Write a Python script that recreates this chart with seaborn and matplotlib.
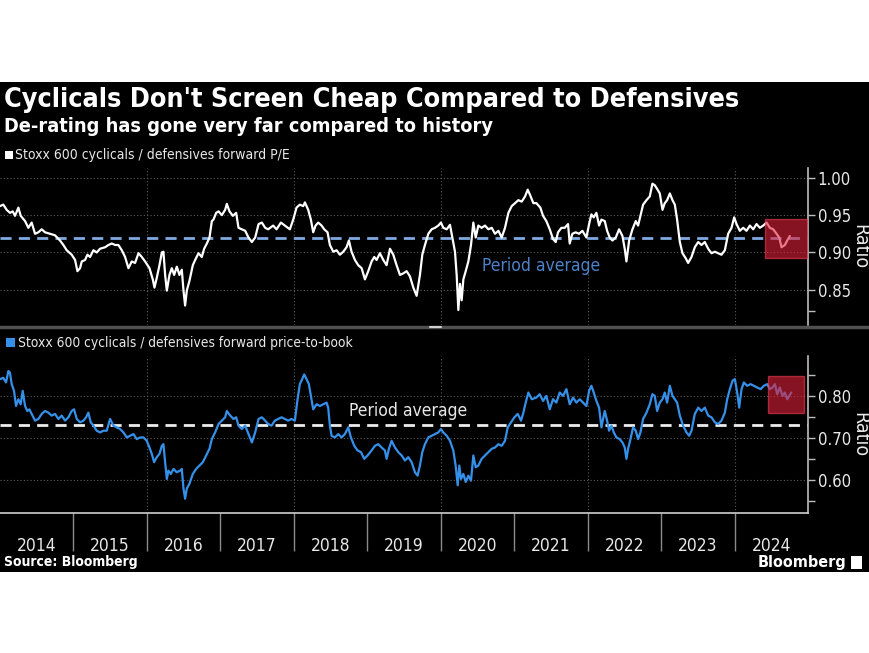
import matplotlib
matplotlib.use("Agg")
import matplotlib.pyplot as plt
import seaborn as sns
import pandas as pd
from matplotlib import font_manager
from matplotlib.patches import Rectangle
from matplotlib.lines import Line2D

# ---------------- data ----------------
pe_years = [
    2014.000, 2014.045, 2014.091, 2014.136, 2014.173, 2014.204, 2014.250, 2014.282, 2014.341, 2014.386,
    2014.431, 2014.477, 2014.522, 2014.568, 2014.613, 2014.681, 2014.749, 2014.817, 2014.863, 2014.908,
    2014.976, 2015.022, 2015.054, 2015.090, 2015.113, 2015.158, 2015.190, 2015.226, 2015.272, 2015.317,
    2015.362, 2015.431, 2015.476, 2015.521, 2015.567, 2015.612, 2015.658, 2015.703, 2015.748, 2015.794,
    2015.839, 2015.885, 2015.930, 2015.975, 2016.035, 2016.080, 2016.103, 2016.134, 2016.171, 2016.203,
    2016.225, 2016.248, 2016.271, 2016.307, 2016.339, 2016.371, 2016.407, 2016.443, 2016.475, 2016.498,
    2016.520, 2016.543, 2016.579, 2016.625, 2016.657, 2016.702, 2016.747, 2016.779, 2016.816, 2016.852,
    2016.884, 2016.906, 2016.943, 2016.975, 2017.020, 2017.065, 2017.088, 2017.124, 2017.170, 2017.215,
    2017.247, 2017.292, 2017.338, 2017.383, 2017.429, 2017.474, 2017.520, 2017.565, 2017.610,
    2017.651, 2017.719, 2017.765, 2017.824, 2017.878, 2017.946, 2017.992, 2018.037, 2018.082, 2018.128,
    2018.151, 2018.196, 2018.232, 2018.264, 2018.296, 2018.332, 2018.378, 2018.414, 2018.459, 2018.491,
    2018.537, 2018.582, 2018.627, 2018.673, 2018.718, 2018.750, 2018.786, 2018.832, 2018.877, 2018.923,
    2018.968, 2019.013, 2019.059, 2019.095, 2019.127, 2019.172, 2019.218, 2019.263, 2019.309, 2019.354,
    2019.399, 2019.445, 2019.490, 2019.536, 2019.581, 2019.627, 2019.672, 2019.717, 2019.749, 2019.785,
    2019.831, 2019.876, 2019.922, 2019.967, 2020.003, 2020.035, 2020.081, 2020.126, 2020.158, 2020.194,
    2020.217, 2020.240, 2020.262, 2020.285, 2020.308, 2020.340, 2020.376, 2020.412, 2020.444, 2020.476,
    2020.512, 2020.557, 2020.603, 2020.648, 2020.694, 2020.739, 2020.785, 2020.830, 2020.875, 2020.921,
    2020.966, 2021.012, 2021.057, 2021.102, 2021.148, 2021.184, 2021.216, 2021.261,
    2021.302, 2021.356, 2021.393, 2021.438, 2021.484, 2021.529, 2021.565, 2021.597, 2021.643, 2021.688,
    2021.733, 2021.756, 2021.792, 2021.838, 2021.883, 2021.929, 2021.983, 2022.020, 2022.051, 2022.083,
    2022.119, 2022.156, 2022.188, 2022.233, 2022.265, 2022.301, 2022.337, 2022.383, 2022.428, 2022.474,
    2022.505, 2022.528, 2022.565, 2022.610, 2022.655, 2022.687, 2022.719, 2022.755, 2022.801, 2022.846,
    2022.882, 2022.914, 2022.946, 2022.982, 2023.019, 2023.050, 2023.082, 2023.119, 2023.155, 2023.187,
    2023.218, 2023.255, 2023.291, 2023.337, 2023.368, 2023.414, 2023.459, 2023.505, 2023.550, 2023.595,
    2023.641, 2023.686, 2023.732, 2023.777, 2023.822, 2023.868, 2023.913, 2023.959, 2023.995, 2024.027,
    2024.072, 2024.118, 2024.163, 2024.209, 2024.254, 2024.299, 2024.345, 2024.390, 2024.436, 2024.481,
    2024.526, 2024.572, 2024.608, 2024.640, 2024.685, 2024.717, 2024.753,
]
pe_values = [
    0.962, 0.964, 0.957, 0.953, 0.955, 0.949, 0.960, 0.949, 0.942, 0.933,
    0.940, 0.925, 0.927, 0.931, 0.927, 0.925, 0.923, 0.916, 0.910, 0.903,
    0.897, 0.890, 0.875, 0.879, 0.888, 0.890, 0.897, 0.894, 0.903, 0.900,
    0.905, 0.907, 0.910, 0.912, 0.910, 0.910, 0.903, 0.894, 0.879, 0.888,
    0.886, 0.899, 0.894, 0.888, 0.879, 0.864, 0.853, 0.866, 0.883, 0.900,
    0.901, 0.870, 0.849, 0.870, 0.879, 0.870, 0.881, 0.870, 0.877, 0.849,
    0.829, 0.849, 0.862, 0.883, 0.890, 0.899, 0.894, 0.905, 0.912, 0.920,
    0.942, 0.944, 0.953, 0.955, 0.950, 0.957, 0.965, 0.955, 0.949, 0.953,
    0.933, 0.931, 0.929, 0.920, 0.914, 0.920, 0.938, 0.940, 0.933,
    0.931, 0.936, 0.931, 0.940, 0.936, 0.931, 0.944, 0.960, 0.964, 0.962,
    0.967, 0.957, 0.944, 0.927, 0.936, 0.940, 0.936, 0.931, 0.927, 0.910,
    0.901, 0.903, 0.897, 0.901, 0.907, 0.916, 0.901, 0.890, 0.883, 0.879,
    0.864, 0.875, 0.888, 0.894, 0.890, 0.899, 0.890, 0.883, 0.905, 0.897,
    0.883, 0.870, 0.872, 0.875, 0.868, 0.853, 0.842, 0.870, 0.897, 0.910,
    0.925, 0.931, 0.933, 0.936, 0.940, 0.933, 0.931, 0.937, 0.920, 0.901,
    0.870, 0.823, 0.858, 0.836, 0.864, 0.875, 0.888, 0.910, 0.940, 0.920,
    0.936, 0.933, 0.936, 0.931, 0.933, 0.925, 0.929, 0.920, 0.933, 0.953,
    0.962, 0.966, 0.970, 0.968, 0.975, 0.984, 0.977, 0.966,
    0.966, 0.960, 0.949, 0.942, 0.931, 0.918, 0.914, 0.927, 0.933, 0.933,
    0.938, 0.912, 0.925, 0.927, 0.925, 0.929, 0.920, 0.938, 0.951, 0.947,
    0.953, 0.936, 0.944, 0.942, 0.929, 0.920, 0.916, 0.920, 0.931, 0.922,
    0.905, 0.888, 0.916, 0.931, 0.942, 0.936, 0.949, 0.964, 0.970, 0.975,
    0.992, 0.990, 0.985, 0.979, 0.957, 0.966, 0.970, 0.979, 0.970, 0.964,
    0.944, 0.914, 0.899, 0.892, 0.886, 0.894, 0.907, 0.914, 0.910, 0.914,
    0.905, 0.899, 0.901, 0.899, 0.897, 0.903, 0.925, 0.933, 0.947, 0.938,
    0.929, 0.933, 0.929, 0.936, 0.931, 0.938, 0.933, 0.936, 0.940, 0.933,
    0.931, 0.925, 0.920, 0.907, 0.910, 0.916, 0.922,
]

pb_years = [
    2014.000, 2014.045, 2014.082, 2014.114, 2014.136, 2014.159, 2014.191, 2014.218, 2014.250, 2014.282,
    2014.309, 2014.341, 2014.372, 2014.400, 2014.431, 2014.477, 2014.522, 2014.568, 2014.613, 2014.658,
    2014.704, 2014.749, 2014.795, 2014.840, 2014.886, 2014.931, 2014.976, 2015.008, 2015.045, 2015.090,
    2015.135, 2015.172, 2015.203, 2015.235, 2015.272, 2015.317, 2015.362, 2015.408, 2015.453, 2015.499,
    2015.544, 2015.589, 2015.635, 2015.680, 2015.726, 2015.771, 2015.817, 2015.862, 2015.907, 2015.953,
    2015.998, 2016.035, 2016.066, 2016.098, 2016.134, 2016.171, 2016.203, 2016.225, 2016.248, 2016.271,
    2016.293, 2016.325, 2016.362, 2016.407, 2016.452, 2016.475, 2016.498, 2016.520, 2016.543, 2016.579,
    2016.625, 2016.670, 2016.716, 2016.761, 2016.807, 2016.852, 2016.884, 2016.929, 2016.975, 2017.020,
    2017.065, 2017.088, 2017.134, 2017.179, 2017.215, 2017.247, 2017.292, 2017.338, 2017.383, 2017.429,
    2017.474, 2017.520, 2017.565, 2017.610,
    2017.651, 2017.696, 2017.742, 2017.787, 2017.833, 2017.878, 2017.923, 2017.969, 2018.014, 2018.051,
    2018.082, 2018.114, 2018.141, 2018.173, 2018.205, 2018.232, 2018.264, 2018.309, 2018.355, 2018.400,
    2018.446, 2018.468, 2018.491, 2018.514, 2018.559, 2018.605, 2018.650, 2018.695, 2018.741, 2018.777,
    2018.823, 2018.868, 2018.914, 2018.959, 2019.004, 2019.059, 2019.104, 2019.150, 2019.195, 2019.240,
    2019.263, 2019.295, 2019.331, 2019.377, 2019.422, 2019.468, 2019.513, 2019.558, 2019.604, 2019.649,
    2019.685, 2019.717, 2019.749, 2019.785, 2019.831, 2019.876, 2019.922, 2019.967, 2020.003, 2020.035,
    2020.081, 2020.126, 2020.171, 2020.203, 2020.231, 2020.253, 2020.276, 2020.308, 2020.340, 2020.376,
    2020.412, 2020.444, 2020.476, 2020.512, 2020.557, 2020.603, 2020.648, 2020.694, 2020.739, 2020.785,
    2020.830, 2020.875, 2020.912, 2020.957, 2021.003, 2021.048, 2021.093, 2021.125, 2021.157, 2021.193,
    2021.239,
    2021.302, 2021.347, 2021.393, 2021.438, 2021.484, 2021.529, 2021.574, 2021.620, 2021.665, 2021.711,
    2021.756, 2021.802, 2021.847, 2021.892, 2021.938, 2021.983, 2022.020, 2022.051, 2022.083, 2022.119,
    2022.156, 2022.188, 2022.210, 2022.233, 2022.265, 2022.292, 2022.324, 2022.356, 2022.392, 2022.437,
    2022.474, 2022.505, 2022.528, 2022.551, 2022.583, 2022.619, 2022.655, 2022.687, 2022.719, 2022.755,
    2022.801, 2022.846, 2022.882, 2022.914, 2022.946, 2022.982, 2023.019, 2023.050, 2023.082, 2023.119,
    2023.155, 2023.187, 2023.218, 2023.255, 2023.300, 2023.346, 2023.382, 2023.414, 2023.459, 2023.505,
    2023.550, 2023.595, 2023.641, 2023.686, 2023.732, 2023.777, 2023.822, 2023.868, 2023.900, 2023.936,
    2023.972, 2024.004, 2024.036, 2024.063, 2024.095, 2024.127, 2024.172, 2024.218, 2024.263, 2024.308,
    2024.354, 2024.399, 2024.445, 2024.481, 2024.517, 2024.549, 2024.581, 2024.617, 2024.653, 2024.685,
    2024.717, 2024.744, 2024.772,
]
pb_values = [
    0.840, 0.843, 0.832, 0.859, 0.855, 0.828, 0.812, 0.776, 0.792, 0.780,
    0.812, 0.776, 0.764, 0.768, 0.757, 0.741, 0.745, 0.757, 0.764, 0.760,
    0.753, 0.757, 0.745, 0.753, 0.741, 0.749, 0.764, 0.768, 0.745, 0.737,
    0.741, 0.749, 0.760, 0.737, 0.729, 0.717, 0.713, 0.717, 0.717, 0.745,
    0.729, 0.725, 0.721, 0.713, 0.701, 0.705, 0.709, 0.697, 0.701, 0.701,
    0.693, 0.677, 0.662, 0.642, 0.654, 0.662, 0.681, 0.685, 0.642, 0.602,
    0.622, 0.614, 0.626, 0.618, 0.622, 0.626, 0.579, 0.555, 0.579, 0.591,
    0.614, 0.626, 0.634, 0.642, 0.658, 0.674, 0.697, 0.713, 0.733, 0.741,
    0.749, 0.764, 0.753, 0.745, 0.749, 0.729, 0.721, 0.729, 0.709, 0.689,
    0.713, 0.745, 0.749, 0.741,
    0.733, 0.729, 0.741, 0.745, 0.749, 0.745, 0.741, 0.745, 0.741, 0.792,
    0.828, 0.840, 0.851, 0.840, 0.828, 0.800, 0.768, 0.780, 0.776, 0.780,
    0.784, 0.772, 0.729, 0.705, 0.701, 0.709, 0.701, 0.709, 0.725, 0.701,
    0.681, 0.670, 0.666, 0.650, 0.658, 0.670, 0.681, 0.685, 0.677, 0.670,
    0.650, 0.674, 0.693, 0.677, 0.666, 0.658, 0.646, 0.654, 0.642, 0.618,
    0.610, 0.634, 0.666, 0.685, 0.701, 0.705, 0.709, 0.713, 0.721, 0.713,
    0.705, 0.693, 0.670, 0.634, 0.587, 0.634, 0.602, 0.614, 0.595, 0.610,
    0.598, 0.658, 0.630, 0.634, 0.650, 0.658, 0.666, 0.674, 0.677, 0.685,
    0.681, 0.693, 0.725, 0.737, 0.749, 0.757, 0.741, 0.760, 0.784, 0.808,
    0.792,
    0.796, 0.804, 0.788, 0.800, 0.768, 0.792, 0.784, 0.808, 0.800, 0.816,
    0.780, 0.796, 0.784, 0.792, 0.784, 0.776, 0.812, 0.824, 0.808, 0.788,
    0.772, 0.725, 0.745, 0.764, 0.741, 0.717, 0.729, 0.713, 0.701, 0.697,
    0.689, 0.677, 0.650, 0.674, 0.697, 0.725, 0.717, 0.697, 0.713, 0.745,
    0.760, 0.780, 0.804, 0.800, 0.764, 0.784, 0.792, 0.808, 0.784, 0.824,
    0.800, 0.792, 0.784, 0.753, 0.729, 0.713, 0.705, 0.717, 0.757, 0.772,
    0.764, 0.772, 0.753, 0.749, 0.737, 0.733, 0.741, 0.760, 0.792, 0.816,
    0.836, 0.840, 0.808, 0.772, 0.816, 0.832, 0.824, 0.828, 0.824, 0.820,
    0.816, 0.824, 0.828, 0.816, 0.820, 0.828, 0.804, 0.820, 0.800, 0.808,
    0.792, 0.800, 0.808,
]

pe_average = 0.92
pb_average = 0.731
year_labels = ["2014", "2015", "2016", "2017", "2018", "2019",
               "2020", "2021", "2022", "2023", "2024"]
pe_yticks = [0.85, 0.90, 0.95, 1.00]
pb_yticks = [0.60, 0.70, 0.80]

title = "Cyclicals Don't Screen Cheap Compared to Defensives"
subtitle = "De-rating has gone very far compared to history"
pe_legend = "Stoxx 600 cyclicals / defensives forward P/E"
pb_legend = "Stoxx 600 cyclicals / defensives forward price-to-book"

# highlight window (recent period) drawn as a red box
pe_hl_x = (2024.42, 2024.995)
pe_hl_y = (0.892, 0.945)
pb_hl_x = (2024.46, 2024.94)
pb_hl_y = (0.760, 0.847)

# ---------------- style ----------------
sns.set_theme(style="dark")
names = {f.name for f in font_manager.fontManager.ttflist}
if "Liberation Sans Narrow" in names:
    FAM = ["Liberation Sans Narrow", "DejaVu Sans"]
    STRETCH = "normal"
else:
    FAM = ["DejaVu Sans"]
    STRETCH = "condensed"
plt.rcParams["font.family"] = FAM
plt.rcParams["font.stretch"] = STRETCH

W, H = 870, 653
fig = plt.figure(figsize=(W / 100, H / 100), dpi=100)
fig.patch.set_facecolor("white")


def fx(x):
    return x / W


def fy(y):
    return 1 - y / H


# black chart card (behind everything)
fig.patches.append(Rectangle((0, fy(572)), 1, (572 - 82) / H, transform=fig.transFigure,
                             facecolor="black", edgecolor="none", zorder=-10))

ax1 = fig.add_axes([0, fy(325), fx(808), 157 / H])
ax2 = fig.add_axes([0, fy(513), fx(808), 157 / H])

TXT = "#e8e8e8"
GRID = "#5c5c5c"
SPINE = "#bdbdbd"
BLUE = "#3590ea"

pe_df = pd.DataFrame({"year": pe_years, "ratio": pe_values})
pb_df = pd.DataFrame({"year": pb_years, "ratio": pb_values})

for ax in (ax1, ax2):
    ax.set_facecolor("black")
    ax.set_xlim(2014, 2025)
    for s in ("top", "left"):
        ax.spines[s].set_visible(False)
    ax.spines["right"].set_color(SPINE)
    ax.spines["right"].set_linewidth(1.2)
    ax.yaxis.tick_right()
    ax.tick_params(axis="y", which="both", right=True, direction="out", length=5, width=1,
                   color=SPINE, labelcolor=TXT, labelsize=12, pad=2)
    for yr in range(2016, 2025, 2):
        ax.axvline(yr, color=GRID, lw=0.8, ls=(0, (1, 2)), zorder=1)

# ---- top panel ----
ax1.set_ylim(0.803, 1.013)
ax1.set_yticks(pe_yticks)
ax1.set_yticklabels([f"{v:.2f}" for v in pe_yticks])
ax1.set_yticks([0.822], minor=True)
for v in pe_yticks:
    ax1.axhline(v, color=GRID, lw=0.8, ls=(0, (1, 2)), zorder=1)
ax1.spines["bottom"].set_visible(False)
ax1.set_xticks([])
ax1.axhline(pe_average, color="#7fa9e0", lw=2, dashes=(4, 2.6), zorder=2)
sns.lineplot(data=pe_df, x="year", y="ratio", ax=ax1, color="white", lw=1.6,
             estimator=None, sort=False, zorder=3)
ax1.add_patch(Rectangle((pe_hl_x[0], pe_hl_y[0]), pe_hl_x[1] - pe_hl_x[0], pe_hl_y[1] - pe_hl_y[0],
                        facecolor="#e0203a", alpha=0.6, edgecolor="#f04058", lw=1, zorder=4))
ax1.text(2021.37, 0.882, "Period average", color="#4d82c8", fontsize=12.5,
         ha="center", va="center", zorder=5)
ax1.set_xlabel("")
ax1.set_ylabel("")

# ---- bottom panel ----
ax2.set_ylim(0.521, 0.895)
ax2.set_yticks(pb_yticks)
ax2.set_yticklabels([f"{v:.2f}" for v in pb_yticks])
ax2.set_yticks([0.55, 0.65, 0.75, 0.85], minor=True)
for v in pb_yticks:
    ax2.axhline(v, color=GRID, lw=0.8, ls=(0, (1, 2)), zorder=1)
ax2.spines["bottom"].set_color("#cfcfcf")
ax2.spines["bottom"].set_linewidth(1.2)
ax2.axhline(pb_average, color="#ececec", lw=2, dashes=(4, 2.6), zorder=2)
sns.lineplot(data=pb_df, x="year", y="ratio", ax=ax2, color=BLUE, lw=1.6,
             estimator=None, sort=False, zorder=3)
ax2.add_patch(Rectangle((pb_hl_x[0], pb_hl_y[0]), pb_hl_x[1] - pb_hl_x[0], pb_hl_y[1] - pb_hl_y[0],
                        facecolor="#e0203a", alpha=0.6, edgecolor="#f04058", lw=1, zorder=4))
ax2.text(2019.56, 0.764, "Period average", color=TXT, fontsize=12.5,
         ha="center", va="center", zorder=5)
ax2.set_xticks(list(range(2015, 2025)))
ax2.set_xticklabels([])
ax2.set_xticks([2014.5 + i for i in range(len(year_labels))], minor=True)
ax2.set_xticklabels(year_labels, minor=True)
ax2.tick_params(axis="x", which="major", bottom=True, direction="out", length=27, width=1,
                color="#8a8a8a")
ax2.tick_params(axis="x", which="minor", bottom=True, length=0, pad=17, labelsize=12.5,
                labelcolor=TXT)
ax2.set_xlabel("")
ax2.set_ylabel("")

# separator under top panel
fig.add_artist(Line2D([0, 1], [fy(327), fy(327)], transform=fig.transFigure,
                      color="#505050", lw=2.5))
fig.add_artist(Line2D([fx(430), fx(441)], [fy(327), fy(327)], transform=fig.transFigure,
                      color="#d0d0d0", lw=1.5))

# axis titles
fig.text(fx(860), fy(247), "Ratio", rotation=270, color=TXT, fontsize=14,
         ha="center", va="center")
fig.text(fx(860), fy(435), "Ratio", rotation=270, color=TXT, fontsize=14,
         ha="center", va="center")

# titles
fig.text(fx(4), fy(100), title, color="white", fontsize=19.4, fontweight="bold",
         ha="left", va="center")
fig.text(fx(4), fy(126), subtitle, color="white", fontsize=14.3, fontweight="bold",
         ha="left", va="center")

# legends
fig.patches.append(Rectangle((fx(5), fy(159)), fx(8), 8 / H, transform=fig.transFigure,
                             facecolor="white", edgecolor="none", zorder=3))
fig.text(fx(15), fy(155), pe_legend, color=TXT, fontsize=10, ha="left", va="center")
fig.patches.append(Rectangle((fx(6), fy(347)), fx(9), 9 / H, transform=fig.transFigure,
                             facecolor=BLUE, edgecolor="none", zorder=3))
fig.text(fx(18), fy(343), pb_legend, color=TXT, fontsize=9.9, ha="left", va="center")

# footer
fig.text(fx(4), fy(562), "Source: Bloomberg", color="white", fontsize=10,
         fontweight="bold", ha="left", va="center")
fig.text(fx(846), fy(563), "Bloomberg", color="white", fontsize=11.5,
         fontweight="bold", ha="right", va="center")
fig.patches.append(Rectangle((fx(851), fy(569)), fx(11), 13 / H, transform=fig.transFigure,
                             facecolor="white", edgecolor="none", zorder=3))
for bx, bh in ((853.5, 4), (856.5, 7), (859.5, 5)):
    fig.add_artist(Line2D([fx(bx), fx(bx)], [fy(566), fy(566 - bh)], transform=fig.transFigure,
                          color="black", lw=1.2))

fig.savefig("out.png", dpi=100, facecolor=fig.get_facecolor())
